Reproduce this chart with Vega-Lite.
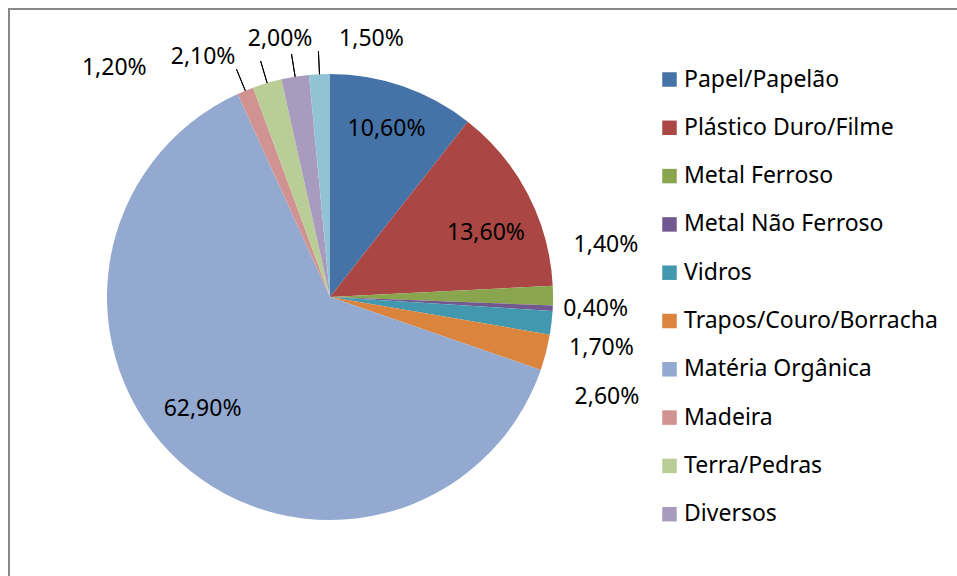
{
  "$schema": "https://vega.github.io/schema/vega-lite/v6.json",
  "padding": {"left": 8, "top": 8, "right": 0, "bottom": 0},
  "background": "white",
  "spacing": 0,
  "bounds": "flush",
  "config": {
    "locale": {"number": {"decimal": ",", "thousands": ".", "grouping": [3], "currency": ["R$", ""]}},
    "font": "Noto Sans"
  },
  "data": {"values": [
    {"cat": "Papel/Papelão", "value": 0.106},
    {"cat": "Plástico Duro/Filme", "value": 0.136},
    {"cat": "Metal Ferroso", "value": 0.014},
    {"cat": "Metal Não Ferroso", "value": 0.004},
    {"cat": "Vidros", "value": 0.017},
    {"cat": "Trapos/Couro/Borracha", "value": 0.026},
    {"cat": "Matéria Orgânica", "value": 0.629},
    {"cat": "Madeira", "value": 0.012},
    {"cat": "Terra/Pedras", "value": 0.021},
    {"cat": "Diversos", "value": 0.020},
    {"cat": "Outros", "value": 0.015}
  ]},
  "hconcat": [
    {
      "width": 642,
      "height": 576,
      "view": {"stroke": "#888888", "strokeWidth": 2, "strokeDash": [642, 1218, 576]},
      "transform": [{"window": [{"op": "row_number", "as": "i"}]}],
      "encoding": {
        "theta": {"field": "value", "type": "quantitative", "stack": true},
        "order": {"field": "i", "type": "quantitative"},
        "detail": {"field": "cat", "type": "nominal"}
      },
      "layer": [
        {
          "mark": {"type": "arc", "outerRadius": 223},
          "encoding": {
            "color": {
              "field": "cat", "type": "nominal",
              "scale": {
                "domain": ["Papel/Papelão", "Plástico Duro/Filme", "Metal Ferroso", "Metal Não Ferroso", "Vidros", "Trapos/Couro/Borracha", "Matéria Orgânica", "Madeira", "Terra/Pedras", "Diversos", "Outros"],
                "range": ["#4572A7", "#AA4643", "#89A54E", "#71588F", "#4198AF", "#DB843D", "#93A9CF", "#D19392", "#B9CD96", "#A99BBD", "#92C3D4"]
              },
              "legend": {
                "values": ["Papel/Papelão", "Plástico Duro/Filme", "Metal Ferroso", "Metal Não Ferroso", "Vidros", "Trapos/Couro/Borracha", "Matéria Orgânica", "Madeira", "Terra/Pedras", "Diversos"],
                "title": null,
                "orient": "none",
                "legendX": 649,
                "legendY": 59,
                "padding": 0,
                "symbolType": "square",
                "symbolSize": 210,
                "symbolStrokeWidth": 0,
                "labelFont": "Noto Sans",
                "labelFontSize": 23,
                "labelColor": "#000000",
                "labelOffset": 3,
                "labelLimit": 0,
                "rowPadding": 24.3
              }
            }
          }
        },
        {
          "mark": {"type": "arc", "innerRadius": 223, "outerRadius": 246, "padAngle": 0.2, "filled": false, "stroke": "#000000", "strokeWidth": 1},
          "encoding": {
            "strokeOpacity": {"condition": {"test": "datum.cat == 'Madeira' || datum.cat == 'Terra/Pedras' || datum.cat == 'Diversos' || datum.cat == 'Outros'", "value": 1}, "value": 0}
          }
        },
        {"mark": {"type": "text", "radius": 170, "dx": 1, "dy": -7, "fontSize": 23, "font": "Noto Sans", "color": "#000000"},
         "encoding": {"text": {"condition": {"test": "datum.cat == 'Papel/Papelão'", "field": "value", "type": "quantitative", "format": ".2%"}, "value": ""}}},
        {"mark": {"type": "text", "radius": 170, "dx": 5, "dy": 14, "fontSize": 23, "font": "Noto Sans", "color": "#000000"},
         "encoding": {"text": {"condition": {"test": "datum.cat == 'Plástico Duro/Filme'", "field": "value", "type": "quantitative", "format": ".2%"}, "value": ""}}},
        {"mark": {"type": "text", "radius": 170, "dx": -13, "dy": -14, "fontSize": 23, "font": "Noto Sans", "color": "#000000"},
         "encoding": {"text": {"condition": {"test": "datum.cat == 'Matéria Orgânica'", "field": "value", "type": "quantitative", "format": ".2%"}, "value": ""}}},
        {"mark": {"type": "text", "radius": 223, "dx": 53, "dy": -51, "fontSize": 23, "font": "Noto Sans", "color": "#000000"},
         "encoding": {"text": {"condition": {"test": "datum.cat == 'Metal Ferroso'", "field": "value", "type": "quantitative", "format": ".2%"}, "value": ""}}},
        {"mark": {"type": "text", "radius": 223, "dx": 43, "dy": 1, "fontSize": 23, "font": "Noto Sans", "color": "#000000"},
         "encoding": {"text": {"condition": {"test": "datum.cat == 'Metal Não Ferroso'", "field": "value", "type": "quantitative", "format": ".2%"}, "value": ""}}},
        {"mark": {"type": "text", "radius": 223, "dx": 50, "dy": 25, "fontSize": 23, "font": "Noto Sans", "color": "#000000"},
         "encoding": {"text": {"condition": {"test": "datum.cat == 'Vidros'", "field": "value", "type": "quantitative", "format": ".2%"}, "value": ""}}},
        {"mark": {"type": "text", "radius": 223, "dx": 61, "dy": 45, "fontSize": 23, "font": "Noto Sans", "color": "#000000"},
         "encoding": {"text": {"condition": {"test": "datum.cat == 'Trapos/Couro/Borracha'", "field": "value", "type": "quantitative", "format": ".2%"}, "value": ""}}},
        {"mark": {"type": "text", "radius": 223, "dx": -131, "dy": -23, "fontSize": 23, "font": "Noto Sans", "color": "#000000"},
         "encoding": {"text": {"condition": {"test": "datum.cat == 'Madeira'", "field": "value", "type": "quantitative", "format": ".2%"}, "value": ""}}},
        {"mark": {"type": "text", "radius": 223, "dx": -64, "dy": -26, "fontSize": 23, "font": "Noto Sans", "color": "#000000"},
         "encoding": {"text": {"condition": {"test": "datum.cat == 'Terra/Pedras'", "field": "value", "type": "quantitative", "format": ".2%"}, "value": ""}}},
        {"mark": {"type": "text", "radius": 223, "dx": -15, "dy": -38, "fontSize": 23, "font": "Noto Sans", "color": "#000000"},
         "encoding": {"text": {"condition": {"test": "datum.cat == 'Diversos'", "field": "value", "type": "quantitative", "format": ".2%"}, "value": ""}}},
        {"mark": {"type": "text", "radius": 223, "dx": 52, "dy": -35, "fontSize": 23, "font": "Noto Sans", "color": "#000000"},
         "encoding": {"text": {"condition": {"test": "datum.cat == 'Outros'", "field": "value", "type": "quantitative", "format": ".2%"}, "value": ""}}}
      ]
    },
    {
      "width": 310,
      "height": 576,
      "view": {"stroke": "#888888", "strokeWidth": 2, "strokeDash": [1196, 576]},
      "mark": {"type": "text"},
      "encoding": {"text": {"value": ""}}
    }
  ]
}
